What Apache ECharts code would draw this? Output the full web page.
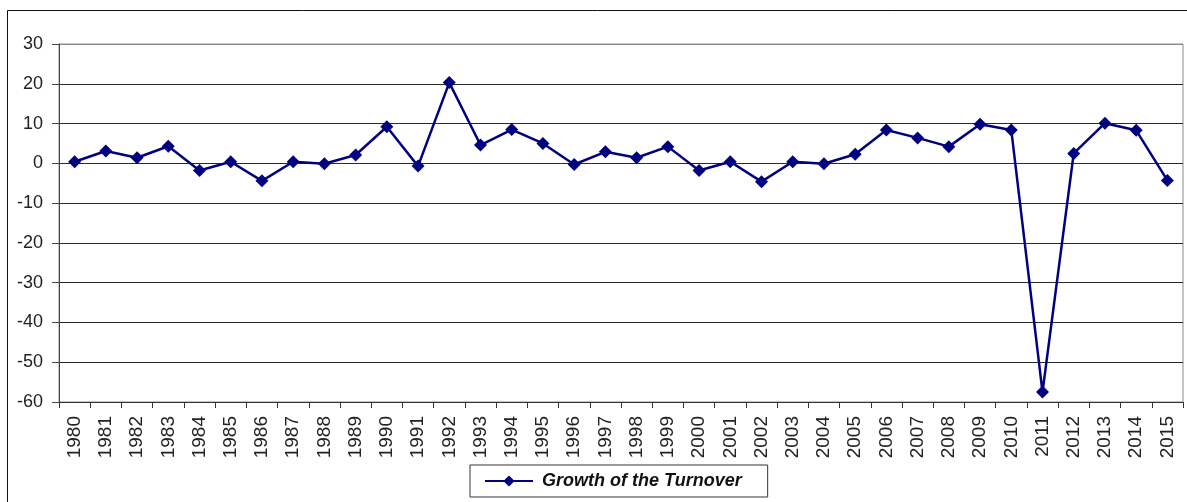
<!DOCTYPE html>
<html>
<head>
<meta charset="utf-8">
<script src="https://cdn.jsdelivr.net/npm/echarts@6/dist/echarts.min.js"></script>
<style>
  html, body { margin: 0; padding: 0; background: #fff; }
  #chart { width: 1187px; height: 502px; }
</style>
</head>
<body>
<div id="chart"></div>
<script>
// 데이터
const years = [];
for (let y = 1980; y <= 2015; y++) years.push(String(y));

const turnoverGrowth = [
    0.4, 3.1, 1.4, 4.3, -1.8, 0.4, -4.4, 0.4, -0.1, 2.1,
    9.2, -0.7, 20.3, 4.6, 8.5, 5.0, -0.3, 2.9, 1.4, 4.2,
    -1.8, 0.4, -4.6, 0.4, -0.1, 2.3, 8.4, 6.4, 4.2, 9.8,
    8.4, -57.5, 2.5, 10.1, 8.3, -4.3
];

const seriesName = 'Growth of the Turnover';
const yTicks = { min: -60, max: 30, step: 10 };

const FONT = '"Liberation Sans", Arial, sans-serif';

const chart = echarts.init(document.getElementById('chart'));

// 격자선 색: 맨 위(30) 선만 회색
const gridColors = [];
for (let v = yTicks.min; v <= yTicks.max; v += yTicks.step) {
    gridColors.push(v === yTicks.max ? '#8a8a8a' : '#2a2a2a');
}

chart.setOption({
    animation: false,
    backgroundColor: '#fff',
    textStyle: { fontFamily: FONT },
    graphic: [{
        type: 'rect',
        shape: { x: 7.5, y: 10.5, width: 1300, height: 600 },
        style: { fill: 'none', stroke: '#111', lineWidth: 1 },
        silent: true
    }],
    grid: {
        left: 59, right: 4, top: 44, bottom: 100,
        show: true, borderColor: '#8a8a8a', borderWidth: 1,
        backgroundColor: 'transparent'
    },
    legend: {
        left: 470, top: 465,
        padding: [7, 26, 7, 14],
        borderColor: '#333', borderWidth: 1,
        itemWidth: 48, itemHeight: 14,
        textStyle: {
            fontSize: 18, fontStyle: 'italic', fontWeight: 'bold', color: '#111',
            fontFamily: FONT, padding: [0, 0, 0, 4], lineHeight: 18
        },
        data: [seriesName]
    },
    xAxis: {
        type: 'category',
        data: years,
        boundaryGap: true,
        axisLine: { onZero: false, lineStyle: { color: '#333', width: 1 } },
        axisTick: { show: true, length: 6, lineStyle: { color: '#333' } },
        axisLabel: { rotate: 90, fontSize: 19, color: '#222', margin: 14, interval: 0 },
        splitLine: { show: false }
    },
    yAxis: {
        type: 'value',
        min: yTicks.min, max: yTicks.max, interval: yTicks.step,
        axisLine: { show: true, lineStyle: { color: '#444', width: 1 } },
        axisTick: { show: true, length: 7, lineStyle: { color: '#444' } },
        axisLabel: { fontSize: 18, color: '#222', margin: 16 },
        splitLine: { show: true, lineStyle: { color: gridColors, width: 1 } }
    },
    series: [{
        name: seriesName,
        type: 'line',
        data: turnoverGrowth,
        symbol: 'diamond',
        symbolSize: 13,
        lineStyle: { color: '#000080', width: 2.5 },
        itemStyle: { color: '#000080' }
    }]
});
</script>
</body>
</html>
